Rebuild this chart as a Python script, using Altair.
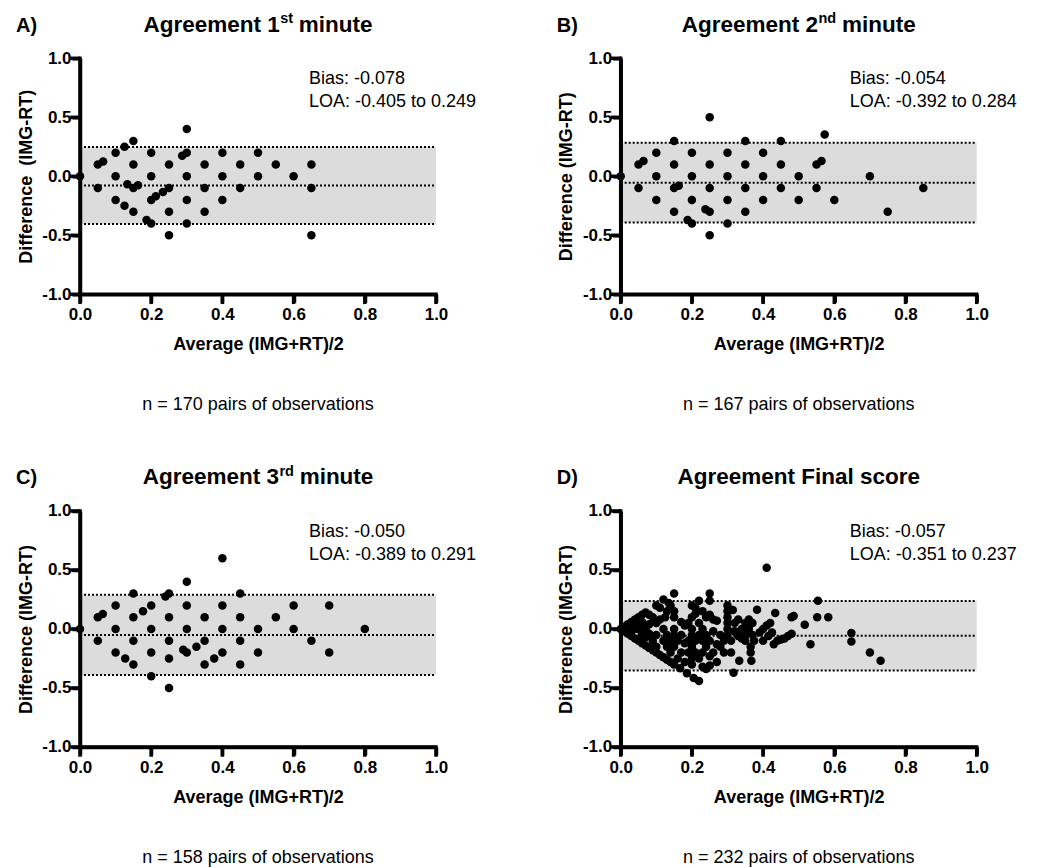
import altair as alt
import pandas as pd

FONT = "Liberation Sans"

# ---------------- data ----------------
panel_letters = ["A)", "B)", "C)", "D)"]
title_main = ["Agreement 1", "Agreement 2", "Agreement 3", "Agreement Final score"]
title_sup = ["st", "nd", "rd", ""]
title_tail = ["minute", "minute", "minute", ""]
y_titles = ["Difference \u00a0(IMG-RT)", "Difference (IMG-RT)", "Difference (IMG-RT)", "Difference (IMG-RT)"]
x_title = "Average (IMG+RT)/2"
bias = [-0.078, -0.054, -0.050, -0.057]
loa_lo = [-0.405, -0.392, -0.389, -0.351]
loa_hi = [0.249, 0.284, 0.291, 0.237]
n_pairs = [170, 167, 158, 232]
x_ticks = [0.0, 0.2, 0.4, 0.6, 0.8, 1.0]
y_ticks = [-1.0, -0.5, 0.0, 0.5, 1.0]

a_avg = [0.0, 0.05, 0.065, 0.05, 0.1, 0.1, 0.1, 0.125, 0.125, 0.15, 0.15, 0.133, 0.15, 0.163, 0.15,
         0.187, 0.2, 0.2, 0.2, 0.2, 0.213, 0.233, 0.25, 0.25, 0.25, 0.25, 0.287, 0.3, 0.3, 0.3, 0.3,
         0.3, 0.35, 0.35, 0.35, 0.4, 0.4, 0.4, 0.45, 0.45, 0.5, 0.5, 0.55, 0.6, 0.65, 0.65, 0.65]
a_diff = [0.0, 0.1, 0.125, -0.1, 0.2, 0.0, -0.2, 0.25, -0.25, 0.3, 0.1, -0.067, -0.1, -0.075, -0.3,
          -0.37, -0.4, 0.2, 0.0, -0.2, -0.17, -0.133, -0.1, 0.1, -0.3, -0.5, 0.175, 0.2, 0.4, 0.0, -0.2,
          -0.4, 0.1, -0.1, -0.3, 0.2, 0.0, -0.2, 0.1, -0.1, 0.2, 0.0, 0.1, 0.0, 0.1, -0.1, -0.5]

b_avg = [0.0, 0.05, 0.064, 0.05, 0.1, 0.1, 0.1, 0.15, 0.15, 0.15, 0.163, 0.15, 0.188, 0.2, 0.2, 0.2,
         0.2, 0.238, 0.25, 0.25, 0.25, 0.25, 0.25, 0.3, 0.3, 0.3, 0.3, 0.35, 0.35, 0.35, 0.35, 0.4, 0.4,
         0.4, 0.45, 0.45, 0.45, 0.5, 0.5, 0.55, 0.564, 0.55, 0.573, 0.6, 0.7, 0.75, 0.85]
b_diff = [0.0, 0.1, 0.13, -0.1, 0.2, 0.0, -0.2, 0.3, 0.1, -0.1, -0.08, -0.3, -0.37, -0.4, 0.2, 0.0,
          -0.2, -0.28, -0.3, 0.5, 0.1, -0.1, -0.5, 0.2, 0.0, -0.2, -0.4, 0.3, 0.1, -0.1, -0.3, 0.2, 0.0,
          -0.2, 0.3, 0.1, -0.1, 0.0, -0.2, 0.1, 0.13, -0.1, 0.355, -0.2, 0.0, -0.3, -0.1]

c_avg = [0.0, 0.05, 0.064, 0.05, 0.1, 0.1, 0.1, 0.127, 0.15, 0.15, 0.15, 0.15, 0.177, 0.2, 0.2, 0.2,
         0.2, 0.24, 0.25, 0.25, 0.25, 0.25, 0.25, 0.29, 0.3, 0.3, 0.3, 0.3, 0.327, 0.35, 0.35, 0.35,
         0.377, 0.4, 0.4, 0.4, 0.4, 0.45, 0.45, 0.45, 0.45, 0.5, 0.5, 0.55, 0.6, 0.6, 0.65, 0.7, 0.7, 0.8]
c_diff = [0.0, 0.1, 0.127, -0.1, 0.2, 0.0, -0.2, -0.25, 0.3, 0.1, -0.1, -0.3, 0.15, 0.2, 0.0, -0.2,
          -0.4, 0.275, 0.3, 0.1, -0.1, -0.25, -0.5, -0.175, -0.2, 0.4, 0.2, 0.0, -0.15, 0.1, -0.1, -0.3,
          -0.25, 0.6, 0.2, 0.0, -0.2, 0.3, 0.1, -0.1, -0.3, 0.0, -0.2, 0.1, 0.2, 0.0, -0.1, 0.2, -0.2, 0.0]

d_avg = [0.000, 0.010, 0.020, 0.030, 0.040, 0.050, 0.060, 0.070, 0.080,
         0.010, 0.020, 0.030, 0.040, 0.050, 0.060, 0.070,
         0.020, 0.030, 0.040, 0.050, 0.060, 0.070, 0.080, 0.090, 0.100, 0.110, 0.120, 0.130, 0.140,
         0.150, 0.167, 0.186, 0.205, 0.220,
         0.010, 0.030, 0.040, 0.050, 0.060, 0.060, 0.070, 0.080, 0.080, 0.090, 0.090, 0.100, 0.100, 0.100,
         0.100, 0.110, 0.120, 0.125, 0.130, 0.135, 0.140, 0.150, 0.150, 0.150,
         0.110, 0.120, 0.120, 0.130, 0.130, 0.140, 0.140, 0.150, 0.150, 0.150, 0.160, 0.160, 0.170, 0.170,
         0.170, 0.180, 0.180, 0.180,
         0.190, 0.190, 0.190, 0.200, 0.200, 0.200, 0.200, 0.200, 0.200, 0.200,
         0.210, 0.210, 0.210, 0.210, 0.220, 0.220, 0.220, 0.220, 0.230, 0.230, 0.230, 0.230, 0.230,
         0.240, 0.240, 0.240, 0.240, 0.250, 0.250, 0.250, 0.250, 0.250, 0.250,
         0.260, 0.260, 0.260, 0.270, 0.270, 0.270, 0.280, 0.280, 0.290, 0.290,
         0.300, 0.300, 0.300, 0.300, 0.300, 0.300, 0.310, 0.310, 0.315, 0.317,
         0.320, 0.320, 0.330, 0.330, 0.333, 0.340, 0.340, 0.350, 0.350, 0.350,
         0.360, 0.360, 0.365, 0.367, 0.365, 0.370, 0.370, 0.375, 0.383, 0.390,
         0.400, 0.400, 0.410, 0.410, 0.415, 0.420, 0.425, 0.430, 0.434, 0.440,
         0.450, 0.460, 0.470, 0.480, 0.486, 0.480, 0.517, 0.533, 0.552, 0.554, 0.583, 0.648, 0.648,
         0.700, 0.730]
d_diff = [0.000, 0.020, 0.040, 0.060, 0.080, 0.100, 0.120, 0.140, 0.120,
          0.000, 0.000, 0.000, 0.000, 0.000, 0.000, 0.000,
          -0.040, -0.060, -0.080, -0.100, -0.120, -0.140, -0.160, -0.180, -0.200, -0.220, -0.240, -0.260,
          -0.280, -0.300, -0.333, -0.375, -0.415, -0.440,
          -0.020, -0.020, 0.040, 0.050, 0.060, -0.040, -0.070, 0.040, -0.040, 0.100, -0.100, 0.050, -0.050,
          -0.150,
          0.200, 0.180, 0.250, 0.100, 0.150, 0.220, 0.200, 0.300, 0.150, 0.100,
          0.080, 0.000, -0.100, -0.050, -0.150, -0.100, -0.200, 0.000, -0.050, -0.150, -0.100, -0.250,
          0.060, -0.050, -0.200, 0.030, -0.120, -0.280,
          0.050, -0.100, -0.200, 0.200, 0.100, 0.000, -0.050, -0.150, -0.250, -0.300,
          0.180, 0.130, -0.100, -0.200, 0.240, 0.050, -0.050, -0.250, 0.150, 0.000, -0.100, -0.200, -0.320,
          0.100, -0.050, -0.150, -0.340, 0.300, 0.240, 0.120, -0.100, -0.230, -0.310,
          0.080, -0.020, -0.200, 0.070, -0.130, -0.280, -0.050, -0.150, -0.100, -0.200,
          0.200, 0.150, 0.100, 0.050, 0.000, -0.050, -0.100, -0.200, 0.160, -0.370,
          0.050, -0.020, 0.080, -0.060, -0.270, 0.000, -0.080, 0.050, -0.050, -0.100,
          0.080, 0.000, -0.200, -0.270, -0.150, 0.050, -0.050, -0.100, 0.164, -0.030,
          0.000, -0.100, 0.520, 0.030, -0.060, 0.050, -0.030, -0.130, 0.136, -0.100,
          -0.090, -0.080, -0.060, -0.040, 0.110, 0.100, 0.035, -0.130, 0.100, 0.240, 0.100, -0.034, -0.105,
          -0.200, -0.270]

avgs = [a_avg, b_avg, c_avg, d_avg]
diffs = [a_diff, b_diff, c_diff, d_diff]

# ---------------- layout helpers ----------------
W, H = 356, 236
TICK = 8
LW = 3.5
HALF = LW / 2
TITLE_SIZE = 22.5
SUP_SIZE = 14.5
BOLD_W = {"A": .722, "g": .611, "r": .389, "e": .556, "m": .889, "n": .611, "t": .333, " ": .278,
          "1": .556, "2": .556, "3": .556, "s": .556, "d": .611, "i": .278, "u": .611,
          "F": .611, "a": .556, "l": .278, "c": .556, "o": .611}
# fixed panel extent (relative to the plot area) so that the grid spacing is deterministic
EXT_L, EXT_R, EXT_T, EXT_B = -65, 405, -47, 357


def text_w(s, size):
    return sum(BOLD_W.get(ch, .6) for ch in s) * size


def one():
    return pd.DataFrame({"k": [0]})


def txt(s, x, y, size, weight="normal", align="left"):
    return alt.Chart(one()).mark_text(
        font=FONT, fontSize=size, fontWeight=weight, align=align, baseline="alphabetic", color="black"
    ).encode(x=alt.value(x), y=alt.value(y), text=alt.value(s))


xs = alt.Scale(domain=[0, 1], nice=False, zero=False)
ys = alt.Scale(domain=[-1, 1], nice=False, zero=False)

AXIS_COMMON = dict(
    domain=True, ticks=True, grid=False, domainColor="black", tickColor="black",
    domainOpacity=1, tickOpacity=1, zindex=1,
    domainWidth=LW, tickWidth=LW, tickSize=TICK, labelFlush=False, labelOverlap=False,
    labelFont=FONT, labelFontWeight="bold", labelFontSize=17, labelColor="black",
    titleFont=FONT, titleFontWeight="bold", titleFontSize=18, titleColor="black",
)


def panel(i):
    xaxis = alt.Axis(
        values=x_ticks, format=".1f", title=x_title,
        labelPadding=4.5, titleX=W / 2, titleY=55.5, titleAlign="center", titleBaseline="alphabetic",
        **AXIS_COMMON,
    )
    yaxis = alt.Axis(
        values=y_ticks, format=".1f",
        title=y_titles[i], labelPadding=1, titleX=-54, titleY=H / 2, titleAngle=270,
        titleAlign="center", titleBaseline="middle", **AXIS_COMMON,
    )
    pts = pd.DataFrame({"avg": avgs[i], "diff": diffs[i]})

    band = alt.Chart(pd.DataFrame({"lo": [loa_lo[i]], "hi": [loa_hi[i]]})).mark_rect(
        color="#dcdcdc"
    ).encode(
        x=alt.XDatum(0.0, type="quantitative", scale=xs),
        x2=alt.X2Datum(1.0),
        y=alt.Y("lo:Q", scale=ys),
        y2="hi:Q",
    )
    rules = alt.Chart(pd.DataFrame({"v": [loa_lo[i], bias[i], loa_hi[i]]})).mark_rule(
        color="black", strokeDash=[2, 2], strokeWidth=2
    ).encode(
        x=alt.XDatum(0.0, type="quantitative", scale=xs),
        x2=alt.X2Datum(1.0),
        y=alt.Y("v:Q", scale=ys),
    )
    # axis lines (filled rectangles) and ticks (tick marks) at the axis values
    x_dom = alt.Chart(one()).mark_rect(color="black", opacity=1).encode(
        x=alt.value(-HALF), x2=alt.value(W + HALF), y=alt.value(H - HALF), y2=alt.value(H + HALF),
    )
    y_dom = alt.Chart(one()).mark_rect(color="black", opacity=1).encode(
        x=alt.value(-HALF), x2=alt.value(HALF), y=alt.value(-HALF), y2=alt.value(H + HALF),
    )
    x_tk = alt.Chart(pd.DataFrame({"t": x_ticks})).mark_tick(
        color="black", orient="vertical", thickness=LW, size=TICK + HALF, opacity=1
    ).encode(x=alt.X("t:Q", scale=xs), y=alt.value(H + (TICK + HALF) / 2))
    y_tk = alt.Chart(pd.DataFrame({"t": y_ticks})).mark_tick(
        color="black", orient="horizontal", thickness=LW, size=TICK + HALF, opacity=1
    ).encode(y=alt.Y("t:Q", scale=ys), x=alt.value(-(TICK + HALF) / 2))
    points = alt.Chart(pts).mark_circle(size=72, color="black", opacity=1).encode(
        x=alt.X("avg:Q", scale=xs, axis=xaxis),
        y=alt.Y("diff:Q", scale=ys, axis=yaxis),
    )
    # invisible extent box (fixes the panel bounds)
    extent = alt.Chart(one()).mark_rule(opacity=0, strokeWidth=0.01).encode(
        x=alt.value(EXT_L), x2=alt.value(EXT_R), y=alt.value(EXT_T), y2=alt.value(EXT_B)
    )
    layers = [extent, band, rules, points]
    # title pieces
    if title_sup[i]:
        wm = text_w(title_main[i], TITLE_SIZE)
        ws = text_w(title_sup[i], SUP_SIZE)
        wsp = text_w(" ", TITLE_SIZE)
        wt = text_w(title_tail[i], TITLE_SIZE)
        start = W / 2 - (wm + ws + wsp + wt) / 2
        layers.append(txt(title_main[i], start + wm, -26.6, TITLE_SIZE, "bold", "right"))
        layers.append(txt(title_sup[i], start + wm + 0.5, -35, SUP_SIZE, "bold", "left"))
        layers.append(txt(title_tail[i], start + wm + ws + wsp, -26.6, TITLE_SIZE, "bold", "left"))
    else:
        layers.append(txt(title_main[i], W / 2, -26.6, TITLE_SIZE, "bold", "center"))
    layers.append(txt(panel_letters[i], -64, -26.6, 20, "bold", "left"))
    layers.append(txt(f"Bias: {bias[i]:.3f}", 229, 25.7, 18))
    layers.append(txt(f"LOA: {loa_lo[i]:.3f} to {loa_hi[i]:.3f}", 229, 49, 18))
    layers.append(txt(f"n = {n_pairs[i]} pairs of observations", W / 2, 352, 18, "normal", "center"))
    # axis lines drawn last, on top of everything else
    layers += [x_dom, y_dom, x_tk, y_tk]
    return alt.layer(*layers).properties(width=W, height=H)


COL_GAP = 540.7 - (EXT_R - EXT_L)
ROW_GAP = 452.7 - (EXT_B - EXT_T)

chart = alt.concat(
    *[panel(i) for i in range(4)], columns=2, spacing={"row": ROW_GAP, "column": COL_GAP}
).properties(
    padding={"left": 80 - 8 + EXT_L, "top": 58.3 - 8 + EXT_T, "right": 0, "bottom": 0}
).configure_view(stroke=None, fill=None)

chart.save(
    "out.html",
    embed_options={
        "renderer": "svg",
        "actions": False,
        "formatLocale": {"decimal": ".", "thousands": ",", "grouping": [3],
                         "currency": ["$", ""], "minus": "-"},
    },
)
